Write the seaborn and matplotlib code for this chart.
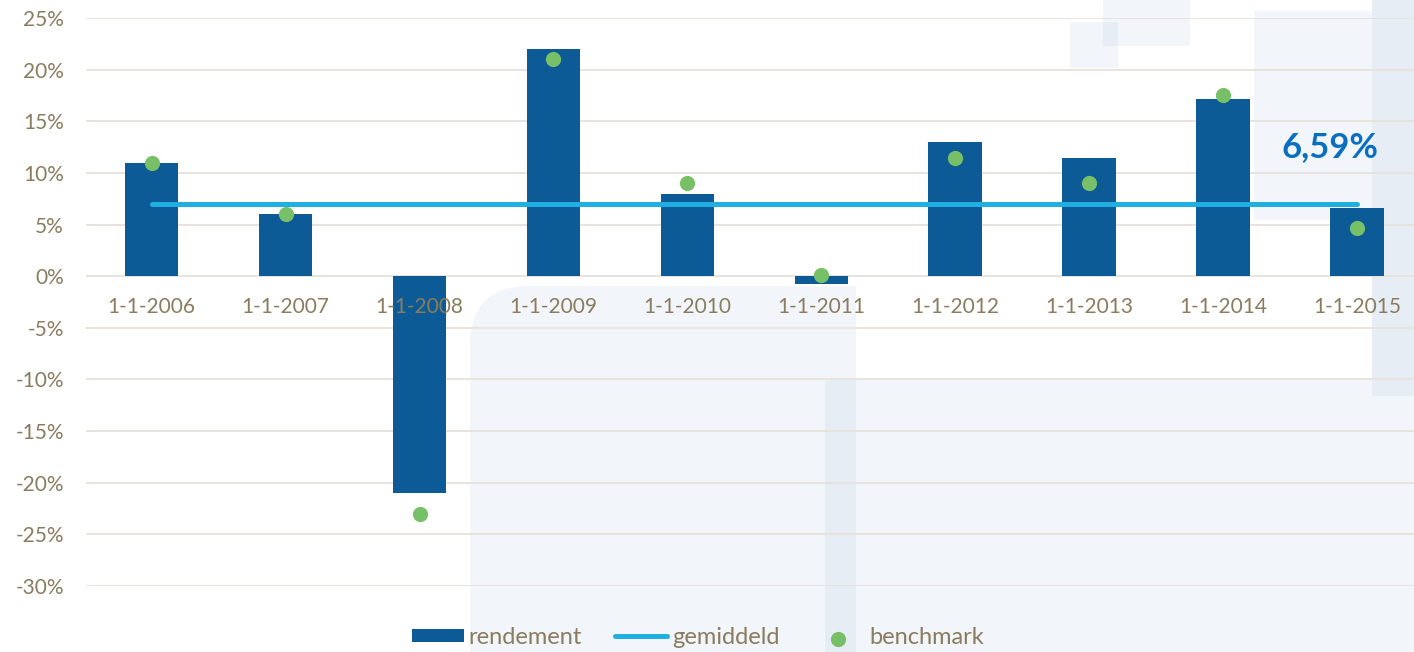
import matplotlib
matplotlib.use("Agg")
import numpy as np
import matplotlib.pyplot as plt
import seaborn as sns
from matplotlib.patches import Rectangle, FancyBboxPatch
from matplotlib.ticker import FuncFormatter, MultipleLocator

# data (percentages)
dates = ["1-1-2006", "1-1-2007", "1-1-2008", "1-1-2009", "1-1-2010",
         "1-1-2011", "1-1-2012", "1-1-2013", "1-1-2014", "1-1-2015"]
rendement = [11.0, 6.0, -21.0, 22.0, 8.0, -0.8, 13.0, 11.4, 17.2, 6.6]
benchmark = [11.0, 6.0, -23.0, 21.0, 9.0, 0.1, 11.4, 9.0, 17.5, 4.7]
gemiddeld = [7.0] * len(dates)
avg_label = "6,59%"
series_names = ["rendement", "gemiddeld", "benchmark"]

bar_color = "#0d5b96"
line_color = "#20afe3"
dot_color = "#78c067"
text_color = "#8a7c5e"
grid_color = "#e6e2da"
light = "#f2f5f9"
mid = "#e7edf4"

sns.set_theme(style="white")
plt.rcParams["font.family"] = ["Lato", "DejaVu Sans"]

W, H = 1414, 652
fig = plt.figure(figsize=(W / 100, H / 100), dpi=100, facecolor="white")


# decorative background blocks (pixel coords, origin top-left)
def block(x0, y0, x1, y1, color, rounded=0):
    if rounded:
        p = FancyBboxPatch((x0, H - y1), x1 - x0, y1 - y0,
                           boxstyle=f"round,pad=0,rounding_size={rounded}",
                           transform=None, facecolor=color, edgecolor="none", zorder=-2)
    else:
        p = Rectangle((x0, H - y1), x1 - x0, y1 - y0, transform=None,
                      facecolor=color, edgecolor="none", zorder=-2)
    fig.add_artist(p)


block(470, 286, 856, 760, light, rounded=60)
block(800, 286, 856, 400, light)
block(856, 380, 1414, 652, light)
block(825, 380, 856, 652, mid)
block(1254, 11, 1414, 220, light)
block(1372, 0, 1414, 396, mid)
block(1103, 0, 1190, 46, light)
block(1070, 22, 1118, 68, light)
block(1103, 22, 1118, 46, mid)

ax = fig.add_axes([86 / W, 66 / H, (W - 86) / W, 568 / H])
ax.set_facecolor("none")
ax.set_axisbelow(False)

sns.barplot(x=dates, y=rendement, color=bar_color, saturation=1, width=0.4,
            linewidth=0, ax=ax, label=series_names[0], zorder=2)
sns.lineplot(x=dates, y=gemiddeld, color=line_color, linewidth=3.6, ax=ax,
             label=series_names[1], solid_capstyle="round", zorder=3)
sns.scatterplot(x=dates, y=benchmark, color=dot_color, s=120, linewidth=0,
                ax=ax, label=series_names[2], zorder=4)

ax.set_ylim(-30, 25)
ax.set_xlim(-0.49, 9.425)
ax.yaxis.set_major_locator(MultipleLocator(5))
ax.yaxis.set_major_formatter(FuncFormatter(lambda v, p: f"{v:.0f}%"))
for v in np.arange(-30, 26, 5):
    ax.axhline(v, color=grid_color, lw=1.3, zorder=0)

for s in ["top", "right", "left"]:
    ax.spines[s].set_visible(False)
ax.spines["bottom"].set_position(("data", 0))
ax.spines["bottom"].set_color("none")

ax.tick_params(axis="y", length=0, pad=16, labelsize=15, labelcolor=text_color)
ax.tick_params(axis="x", length=0, pad=15, labelsize=15, labelcolor=text_color)
ax.set_xlabel("")
ax.set_ylabel("")

ax.text(8.8, 12.5, avg_label, ha="center", va="center", fontsize=25,
        fontweight="bold", color="#0b6fbf")

handles, labels = ax.get_legend_handles_labels()
order = [labels.index(n) for n in series_names]
ax.legend([handles[i] for i in order], [labels[i] for i in order], loc="center",
          bbox_to_anchor=(698 / W, 1 - 637 / H),
          bbox_transform=fig.transFigure, ncol=3, frameon=False, fontsize=17,
          handlelength=2.2, handleheight=0.47, handletextpad=0.2,
          columnspacing=1.4, labelcolor=text_color)

fig.savefig("out.png", dpi=100, facecolor="white")
